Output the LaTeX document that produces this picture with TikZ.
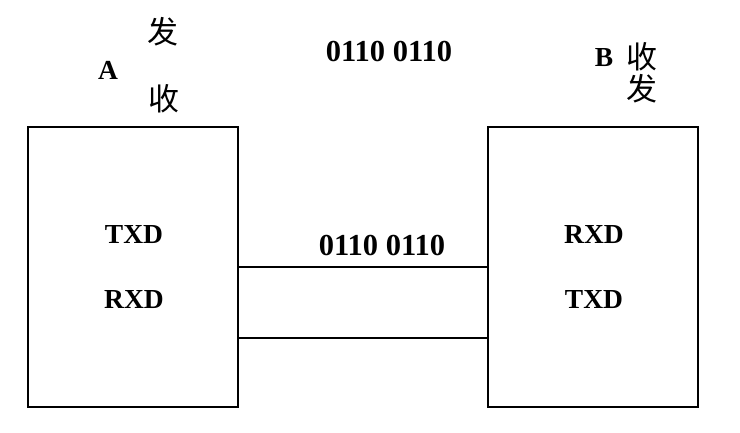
\documentclass[tikz,border=0pt]{standalone}
\usepackage{fontspec}
\setmainfont{Liberation Serif}
\newfontfamily\cjk{Noto Sans CJK SC}
\begin{document}
\begin{tikzpicture}[x=1pt,y=-1pt,
  lbl/.style={font=\fontsize{27.5}{30}\selectfont\bfseries, inner sep=0pt},
  num/.style={font=\fontsize{30.5}{32}\selectfont\bfseries, inner sep=0pt},
  cj/.style={font=\fontsize{31}{33}\selectfont\cjk, inner sep=0pt},
  boxst/.style={draw, line width=1.8pt},
  wire/.style={line width=2.6pt}]
\useasboundingbox (0,0) rectangle (740,432);
\draw[boxst] (28,127) rectangle (238,407);
\draw[boxst] (488,127) rectangle (698,407);
\coordinate (l1) at (238,267);
\coordinate (r1) at (488,267);
\coordinate (l2) at (238,338);
\coordinate (r2) at (488,338);
\draw[wire] (l1) -- (r1);
\draw[wire] (l2) -- (r2);
\node[cj] (af) at (163,32) {发};
\node[cj] (as) at (164,99) {收};
\node[lbl] (a) at (108,70) {A};
\node[num] (top) at (389,52) {0110 0110};
\node[lbl] (b) at (604,58) {B};
\node[cj] (bs) at (642,57) {收};
\node[cj] (bf) at (642,89) {发};
\node[lbl] (atx) at (134,235) {TXD};
\node[lbl] (arx) at (134,300) {RXD};
\node[lbl] (brx) at (594,235) {RXD};
\node[lbl] (btx) at (594,300) {TXD};
\node[num] (mid) at (382,246) {0110 0110};
\end{tikzpicture}
\end{document}
